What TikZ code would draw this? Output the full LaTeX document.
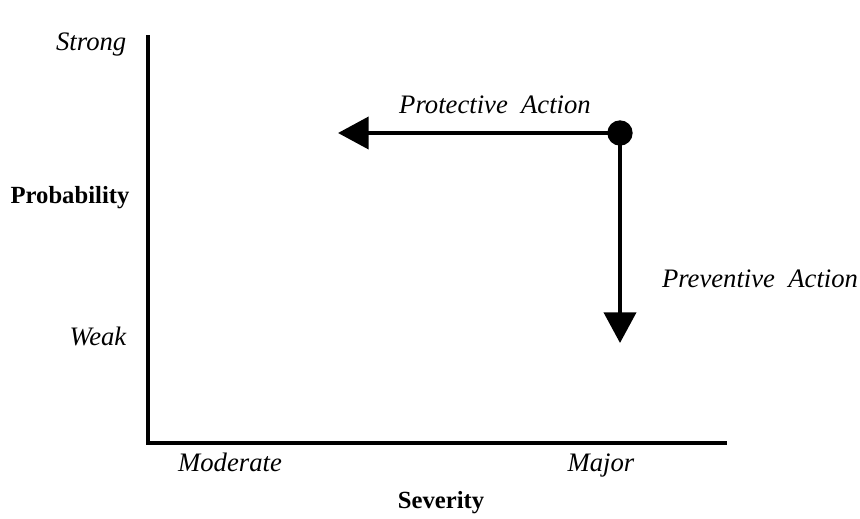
\documentclass[tikz,border=0pt]{standalone}
\usepackage{fontspec}
\setmainfont{Liberation Serif}
\usetikzlibrary{arrows.meta}

\begin{document}
\begin{tikzpicture}[x=0.75pt,y=-0.75pt]
	\tikzstyle{axis}=[line width=3pt]
	\tikzstyle{action}=[line width=3pt,-{Triangle[length=23pt,width=24pt]}]
	\tikzstyle{lvl}=[font=\fontsize{20}{24}\selectfont\itshape,text height=0.7em,text depth=0.22em]
	\tikzstyle{axislabel}=[font=\fontsize{18.5}{22}\selectfont\bfseries]

	\useasboundingbox (0,0) rectangle (860,518);

	\coordinate (top) at (148,35);
	\coordinate (origin) at (148,443);
	\coordinate (right) at (727,443);

	\node[lvl,anchor=east](strong) at (131,47){Strong};
	\node[axislabel](prob) at (70,198){Probability};
	\node[lvl,anchor=east](weak) at (131,342){Weak};

	\node[lvl](moderate) at (230,468){Moderate};
	\node[lvl](major) at (601,468){Major};
	\node[axislabel](sev) at (441,503){Severity};

	\node[circle,fill,inner sep=0pt,minimum size=19pt](risk) at (620,133){};
	\coordinate (protect) at (338,133);
	\coordinate (prevent) at (620,343);

	\node[lvl](protlab) at (495,110){Protective\ \ Action};
	\node[lvl](prevlab) at (760,284){Preventive\ \ Action};

	\draw[axis] (top) -- (origin) -- (right);

	\draw[action] (risk.center) -- (protect);
	\draw[action] (risk.center) -- (prevent);

\end{tikzpicture}
\end{document}
